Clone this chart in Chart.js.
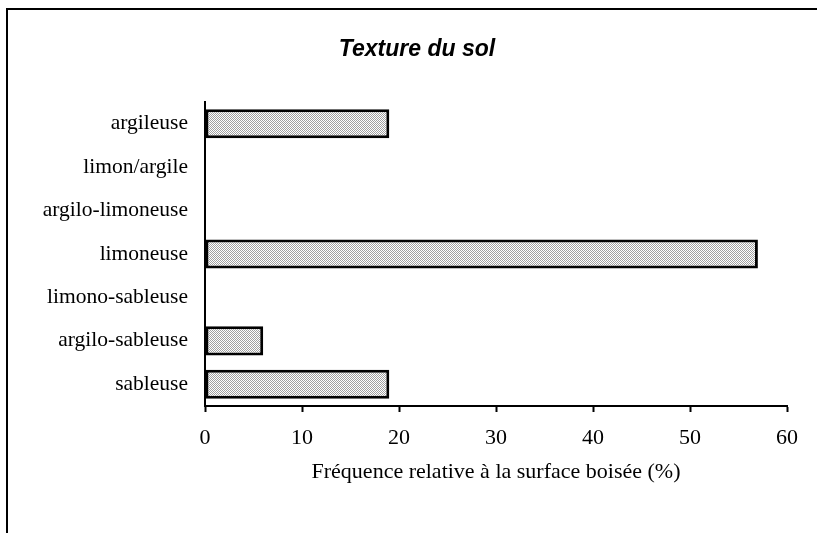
<!DOCTYPE html>
<html>
<head>
<meta charset="utf-8">
<script src="https://cdn.jsdelivr.net/npm/chart.js@4"></script>
<style>
  html, body { margin: 0; padding: 0; background: #fff; overflow: hidden; }
  #frame {
    position: absolute; left: 6px; top: 8px; width: 900px; height: 600px;
    border-left: 2px solid #000; border-top: 2px solid #000;
  }
  #wrap { position: absolute; left: 0; top: 0; width: 817px; height: 533px; }
</style>
</head>
<body>
<div id="frame"></div>
<div id="wrap"><canvas id="chart" width="817" height="533"></canvas></div>
<script>
const categories = [
  "argileuse",
  "limon/argile",
  "argilo-limoneuse",
  "limoneuse",
  "limono-sableuse",
  "argilo-sableuse",
  "sableuse",
]
const frequence = [19, 0, 0, 57, 0, 6, 19]
const xTicks = [0, 10, 20, 30, 40, 50, 60]

const chartTitle = "Texture du sol"
const xTitle = "Fréquence relative à la surface boisée (%)"

// dotted grey fill like the old spreadsheet pattern
function dotPattern() {
  const c = document.createElement("canvas")
  c.width = 2
  c.height = 2
  const g = c.getContext("2d")
  g.fillStyle = "#ffffff"
  g.fillRect(0, 0, 2, 2)
  g.fillStyle = "#a0a0a0"
  g.fillRect(0, 0, 1, 1)
  g.fillRect(1, 1, 1, 1)
  return g.createPattern(c, "repeat")
}

const serif = "'Liberation Serif', 'Times New Roman', serif"

// category labels are a bit wider than the padding; don't clip them at the scale edge
const unclipY = {
  id: "unclipY",
  afterLayout(chart) {
    chart.scales.y.left = 0
  },
}

new Chart(document.getElementById("chart"), {
  type: "bar",
  data: {
    labels: categories,
    datasets: [{
      data: frequence,
      backgroundColor: dotPattern(),
      borderColor: "#000",
      borderWidth: 3,
      borderSkipped: false,
      categoryPercentage: 1,
      barPercentage: 0.67,
    }],
  },
  options: {
    indexAxis: "y",
    responsive: false,
    animation: false,
    layout: {
      padding: { top: 36, left: 47, right: 30, bottom: 0 },
    },
    plugins: {
      legend: { display: false },
      tooltip: { enabled: false },
      title: {
        display: true,
        text: chartTitle,
        color: "#000",
        font: { family: "'Liberation Sans', Arial, sans-serif", size: 23, weight: "bold", style: "italic", lineHeight: 1.2 },
        padding: { top: 0, bottom: 38.4 },
      },
    },
    scales: {
      x: {
        min: 0,
        max: 60,
        afterBuildTicks: (scale) => {
          scale.ticks = xTicks.map(v => ({ value: v }))
        },
        afterFit: (scale) => { scale.height = 127 },
        grid: {
          drawOnChartArea: false,
          drawTicks: true,
          tickLength: 6,
          tickWidth: 2,
          tickColor: "#000",
        },
        border: { display: true, color: "#000", width: 2 },
        ticks: {
          color: "#000",
          padding: 13,
          font: { family: serif, size: 22 },
        },
        title: {
          display: true,
          text: xTitle,
          color: "#000",
          font: { family: serif, size: 22, lineHeight: 1.2 },
          padding: { top: 0, bottom: 48 },
        },
      },
      y: {
        afterFit: (scale) => { scale.width = 158 },
        grid: { display: false, drawTicks: false },
        border: { display: true, color: "#000", width: 2 },
        ticks: {
          color: "#000",
          padding: 17,
          font: { family: serif, size: 21.5 },
        },
      },
    },
  },
  plugins: [unclipY],
})
</script>
</body>
</html>
